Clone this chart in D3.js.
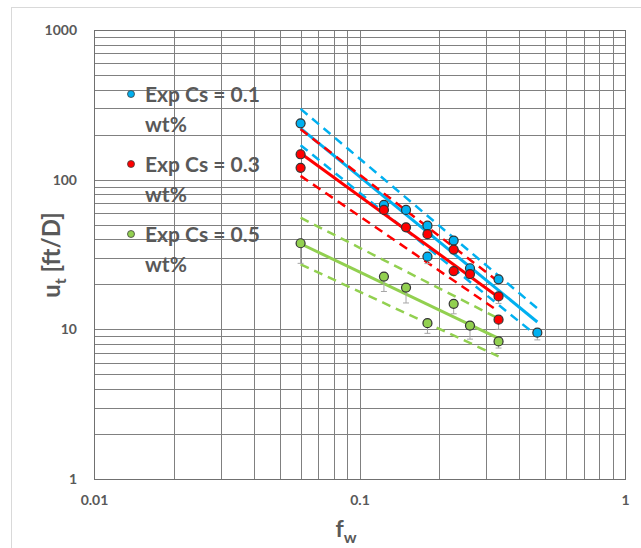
<!DOCTYPE html>
<html>
<head>
<meta charset="utf-8">
<script src="https://cdn.jsdelivr.net/npm/d3@7"></script>
<style>
  body { margin: 0; background: #fff; }
  text { font-family: Lato, "Open Sans", sans-serif; font-weight: bold; fill: #595959; }
</style>
</head>
<body>
<svg class="chart"></svg>
<script>
// experimental points (fw, ut) and lower error bound
var fw01 = [0.060, 0.1236, 0.1497, 0.1803, 0.1803, 0.2263, 0.2607, 0.334, 0.4675];
var ut01 = [238, 67.8, 62.8, 49.3, 30.6, 39.2, 25.6, 21.6, 9.5];
var lo01 = [225, 64, 60, 47, 27.5, 37, 24, 20, 8.5];

var fw03 = [0.060, 0.060, 0.1236, 0.1497, 0.1803, 0.2263, 0.2263, 0.2607, 0.334, 0.334];
var ut03 = [147.8, 120, 62.8, 48, 43.2, 34.1, 24.5, 23.4, 16.6, 11.6];
var lo03 = [140, 113, 60, 46, 41, 32, 23, 22, 14.9, 10.0];

var fw05 = [0.060, 0.1236, 0.1497, 0.1803, 0.2263, 0.2607, 0.334];
var ut05 = [37.6, 22.5, 19.0, 11.0, 14.8, 10.6, 8.3];
var lo05 = [27.6, 17.9, 15.0, 9.4, 12.7, 8.6, 7.5];

// fitted lines: [start, end] in fw and ut
var fitFw01 = [0.060, 0.4675];
var fit01 = [220, 11.2], fitHi01 = [297, 13.8], fitLo01 = [170, 9.0];
var fitFw03 = [0.060, 0.334];
var fit03 = [150, 16.4], fitHi03 = [217, 20.8], fitLo03 = [106, 13.2];
var fitFw05 = [0.060, 0.334];
var fit05 = [37.3, 8.7], fitHi05 = [55.7, 11.8], fitLo05 = [27.2, 6.6];

var legendLabels = ["Exp Cs = 0.1", "Exp Cs = 0.3", "Exp Cs = 0.5"];
var colors = ["#00b0f0", "#ff0000", "#92d050"];
var xTicks = [0.01, 0.1, 1];
var yTicks = [1, 10, 100, 1000];

var width = 641, height = 548;
var plotL = 94, plotR = 625, plotT = 30, plotB = 479;

var svg = d3.select(".chart").attr("width", width).attr("height", height);

// outer chart border
svg.append("rect")
    .attr("x", 11.5).attr("y", 7.5)
    .attr("width", width).attr("height", height)
    .attr("fill", "none").attr("stroke", "#d9d9d9");

var x = d3.scaleLog().domain([0.01, 1]).range([plotL, plotR]);
var y = d3.scaleLog().domain([1, 1000]).range([plotB, plotT]);

// grid lines (major + minor)
var grid = svg.append("g");
grid.selectAll(".vx")
    .data(x.ticks())
    .enter().append("line")
    .attr("x1", function(d) { return Math.round(x(d)) + 0.5; })
    .attr("x2", function(d) { return Math.round(x(d)) + 0.5; })
    .attr("y1", plotT).attr("y2", plotB)
    .attr("stroke", "#808080").attr("stroke-width", 1);
grid.selectAll(".hy")
    .data(y.ticks())
    .enter().append("line")
    .attr("y1", function(d) { return Math.round(y(d)) + 0.5; })
    .attr("y2", function(d) { return Math.round(y(d)) + 0.5; })
    .attr("x1", plotL).attr("x2", plotR)
    .attr("stroke", "#808080").attr("stroke-width", 1);

svg.append("rect")
    .attr("x", plotL + 0.5).attr("y", plotT + 0.5)
    .attr("width", plotR - plotL).attr("height", plotB - plotT)
    .attr("fill", "none").attr("stroke", "#707070");

// axes labels
var xAxis = d3.axisBottom(x).tickValues(xTicks).tickSize(0).tickPadding(16)
    .tickFormat(function(d) { return d; });
var yAxis = d3.axisLeft(y).tickValues(yTicks).tickSize(0).tickPadding(17)
    .tickFormat(function(d) { return d; });

svg.append("g")
    .attr("transform", "translate(0," + plotB + ")")
    .call(xAxis)
    .call(function(g) { g.select(".domain").remove(); })
    .selectAll("text").style("font-size", "14px").attr("fill", "#595959");

svg.append("g")
    .attr("transform", "translate(" + plotL + ",0)")
    .call(yAxis)
    .call(function(g) { g.select(".domain").remove(); })
    .selectAll("text").style("font-size", "14px").attr("fill", "#595959");

// axis titles
var xt = svg.append("text")
    .attr("x", 346).attr("y", 537)
    .attr("text-anchor", "middle")
    .style("font-size", "23px");
xt.append("tspan").text("f");
xt.append("tspan").attr("dy", 6).style("font-size", "16px").text("w");

var yt = svg.append("text")
    .attr("transform", "translate(60,255) rotate(-90)")
    .attr("text-anchor", "middle")
    .style("font-size", "24px");
yt.append("tspan").text("u");
yt.append("tspan").attr("dy", 6).style("font-size", "16px").text("t");
yt.append("tspan").attr("dy", -6).text(" [ft/D]");

// fitted lines
var line = d3.line()
    .x(function(d) { return x(d[0]); })
    .y(function(d) { return y(d[1]); });

var fits = [
    [fitFw01, fit01, fitHi01, fitLo01],
    [fitFw03, fit03, fitHi03, fitLo03],
    [fitFw05, fit05, fitHi05, fitLo05]
];
fits.forEach(function(f, i) {
    [f[2], f[3]].forEach(function(v) {
        svg.append("path")
            .datum(d3.zip(f[0], v))
            .attr("d", line)
            .attr("fill", "none")
            .attr("stroke", colors[i])
            .attr("stroke-width", 2.5)
            .attr("stroke-dasharray", "9,6");
    });
    svg.append("path")
        .datum(d3.zip(f[0], f[1]))
        .attr("d", line)
        .attr("fill", "none")
        .attr("stroke", colors[i])
        .attr("stroke-width", 3);
});

// points with lower error bars
var series = [
    [fw01, ut01, lo01],
    [fw03, ut03, lo03],
    [fw05, ut05, lo05]
];
series.forEach(function(s, i) {
    var pts = d3.zip(s[0], s[1], s[2]);
    svg.selectAll(".err" + i)
        .data(pts)
        .enter().append("line")
        .attr("x1", function(d) { return x(d[0]); })
        .attr("x2", function(d) { return x(d[0]); })
        .attr("y1", function(d) { return y(d[1]); })
        .attr("y2", function(d) { return y(d[2]); })
        .attr("stroke", "#a6a6a6").attr("stroke-width", 1);
    svg.selectAll(".cap" + i)
        .data(pts)
        .enter().append("line")
        .attr("x1", function(d) { return x(d[0]) - 3; })
        .attr("x2", function(d) { return x(d[0]) + 3; })
        .attr("y1", function(d) { return y(d[2]); })
        .attr("y2", function(d) { return y(d[2]); })
        .attr("stroke", "#a6a6a6").attr("stroke-width", 1);
});
series.forEach(function(s, i) {
    svg.selectAll(".dot" + i)
        .data(d3.zip(s[0], s[1]))
        .enter().append("circle")
        .attr("r", 4.5)
        .attr("cx", function(d) { return x(d[0]); })
        .attr("cy", function(d) { return y(d[1]); })
        .attr("fill", colors[i])
        .attr("stroke", "#333")
        .attr("stroke-width", 1.2);
});

// legend
var legend = svg.append("g");
legendLabels.forEach(function(lbl, i) {
    var ly = 94 + i * 70;
    legend.append("circle")
        .attr("cx", 131).attr("cy", ly).attr("r", 3.5)
        .attr("fill", colors[i]).attr("stroke", "#404040").attr("stroke-width", 0.8);
    legend.append("text")
        .attr("x", 145).attr("y", ly + 8)
        .style("font-size", "21px")
        .text(lbl);
    legend.append("text")
        .attr("x", 145).attr("y", ly + 38)
        .style("font-size", "21px")
        .text("wt%");
});
</script>
</body>
</html>
